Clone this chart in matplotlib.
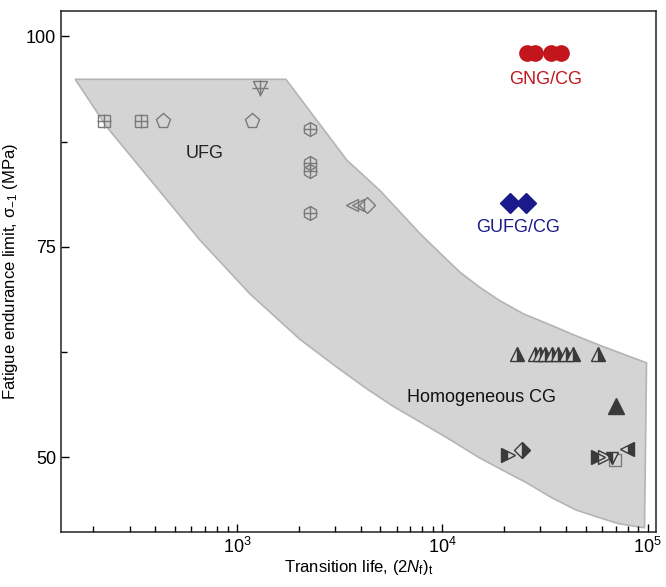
import numpy as np
import matplotlib.pyplot as plt
from matplotlib.ticker import MultipleLocator, LogLocator, NullFormatter

plt.rcParams['font.family'] = ['Liberation Sans', 'DejaVu Sans']
plt.rcParams['mathtext.fontset'] = 'custom'
plt.rcParams['mathtext.rm'] = 'Liberation Sans'
plt.rcParams['mathtext.it'] = 'Liberation Sans:italic'

# shaded band (upper boundary left->right, then lower boundary right->left)
band_x = [163, 1731, 3430, 4965, 6300, 7773, 9800, 12170, 15200, 19050, 25000, 32250,
          44000, 58400, 98900,
          96700, 72000, 58400, 45000, 34000, 26000, 19500, 15220, 10876, 7773,
          5800, 4300, 3100, 2026, 1157, 660, 233]
band_y = [94.9, 94.9, 85.3, 81.7, 79.0, 76.6, 74.2, 72.0, 70.2, 68.6, 67.0, 65.9,
          64.5, 63.3, 61.2,
          41.6, 42.1, 42.8, 43.7, 45.2, 46.9, 48.5, 49.9, 52.1, 54.2,
          56.0, 58.1, 60.6, 64.0, 69.4, 75.8, 89.2]

# UFG (open grey symbols)
sq_x, sq_y = [225, 340], [90.0, 90.0]
pent_x, pent_y = [437, 1184], [90.0, 90.0]
tridown_x, tridown_y = [1294], [93.9]
hex_x, hex_y = [2265, 2265, 2265, 2265], [89.0, 85.0, 84.0, 79.0]
tril_x, tril_y = [3630, 3880], [80.0, 80.0]
diam_x, diam_y = [4300], [80.0]

# GNG/CG and GUFG/CG
gng_x, gng_y = [25980, 28180, 34000, 38030], [98.0, 98.0, 98.0, 98.0]
gufg_x, gufg_y = [21300, 25700], [80.2, 80.2]

# homogeneous CG (dark symbols)
tri_x = [23040, 28180, 29820, 31540, 34130, 36500, 39900, 43170, 57100]
tri_y = [62.2] * 9
solid_x, solid_y = [70600], [56.1]
trir_x, trir_y = [20830, 57100], [50.2, 50.0]
dhalf_x, dhalf_y = [24370], [50.9]
trir_open_x, trir_open_y = [61780], [50.0]
tv_x, tv_y = [66800], [49.9]
sqo_x, sqo_y = [69100], [49.7]
tril_half_x, tril_half_y = [79050], [51.0]

fig = plt.figure(figsize=(6.66, 5.87), dpi=100)
ax = fig.add_axes([0.0916, 0.0937, 0.8934, 0.8873])
ax.set_xscale('log')
ax.set_xlim(139, 1.1e5)
ax.set_ylim(41.1, 103)

ax.fill(band_x, band_y, facecolor='#d4d4d4', edgecolor='#b4b4b4', lw=1.2, zorder=1)

g = '#7a7a7a'
ms = 9
ax.plot(sq_x, sq_y, 's', ms=ms, mfc='none', mec=g, mew=1, zorder=3)
ax.plot(sq_x, sq_y, '+', ms=ms + 1, mec=g, mew=1, zorder=3)
ax.plot(pent_x, pent_y, 'p', ms=ms + 2, mfc='none', mec=g, mew=1, zorder=3)
ax.plot(tridown_x, tridown_y, 'v', ms=ms + 1, mfc='none', mec=g, mew=1, zorder=3)
ax.plot(tridown_x, tridown_y, '+', ms=ms + 3, mec=g, mew=1, zorder=3)
ax.plot(hex_x, hex_y, 'h', ms=ms + 1, mfc='none', mec=g, mew=1, zorder=3)
ax.plot(hex_x, hex_y, '+', ms=ms + 1, mec=g, mew=1, zorder=3)
ax.plot(tril_x, tril_y, '<', ms=ms, mfc='none', mec=g, mew=1, zorder=3)
ax.plot(diam_x, diam_y, 'D', ms=ms - 1, mfc='none', mec=g, mew=1, zorder=3)

ax.plot(gng_x, gng_y, 'o', ms=11, mfc='#c3151c', mec='#c3151c', zorder=3)
ax.plot(gufg_x, gufg_y, 'D', ms=10, mfc='#1a1a8c', mec='#1a1a8c', zorder=3)

d = '#3a3a3a'
ax.plot(tri_x, tri_y, '^', ms=ms + 1, fillstyle='right', mfc=d, mfcalt='#d4d4d4',
        mec=d, mew=1, zorder=3)
ax.plot(solid_x, solid_y, '^', ms=ms + 2, mfc=d, mec=d, zorder=3)
ax.plot(trir_x, trir_y, '>', ms=ms + 1, fillstyle='left', mfc=d, mfcalt='#d4d4d4',
        mec=d, mew=1, zorder=3)
ax.plot(dhalf_x, dhalf_y, 'D', ms=ms - 1, fillstyle='right', mfc=d, mfcalt='#d4d4d4',
        mec=d, mew=1, zorder=3)
ax.plot(trir_open_x, trir_open_y, '>', ms=ms + 1, mfc='none', mec=d, mew=1, zorder=3)
ax.plot(tv_x, tv_y, 'v', ms=ms, fillstyle='left', mfc=d, mfcalt='#d4d4d4',
        mec=d, mew=1, zorder=4)
ax.plot(sqo_x, sqo_y, 's', ms=ms - 1, mfc='none', mec=g, mew=1, zorder=3)
ax.plot(tril_half_x, tril_half_y, '<', ms=ms + 1, fillstyle='right', mfc=d,
        mfcalt='#d4d4d4', mec=d, mew=1, zorder=3)

ax.text(698, 86.1, 'UFG', fontsize=13, color='#222222', ha='center', va='center')
ax.text(15550, 57.1, 'Homogeneous CG', fontsize=13, color='#111111', ha='center', va='center')
ax.text(32000, 94.9, 'GNG/CG', fontsize=13, color='#c3151c', ha='center', va='center')
ax.text(23500, 77.3, 'GUFG/CG', fontsize=13, color='#1a1a8c', ha='center', va='center')

ax.set_yticks([50, 75, 100])
ax.yaxis.set_minor_locator(MultipleLocator(12.5))
ax.xaxis.set_major_locator(LogLocator(base=10, numticks=10))
ax.xaxis.set_minor_locator(LogLocator(base=10, subs=np.arange(2, 10), numticks=10))
ax.xaxis.set_minor_formatter(NullFormatter())
ax.tick_params(which='both', direction='in', labelsize=13, top=False, right=False)
ax.tick_params(which='major', length=6, width=1)
ax.tick_params(which='minor', length=4, width=1)
for s in ax.spines.values():
    s.set_linewidth(1.1)
    s.set_color('#222222')

ax.set_xlabel('Transition life, (2$N_\\mathrm{f}$)$_\\mathrm{t}$', fontsize=12, labelpad=1)
ax.set_ylabel('Fatigue endurance limit, σ$_{\\mathrm{-1}}$ (MPa)', fontsize=12, labelpad=4)

fig.savefig('out.png', dpi=100)
